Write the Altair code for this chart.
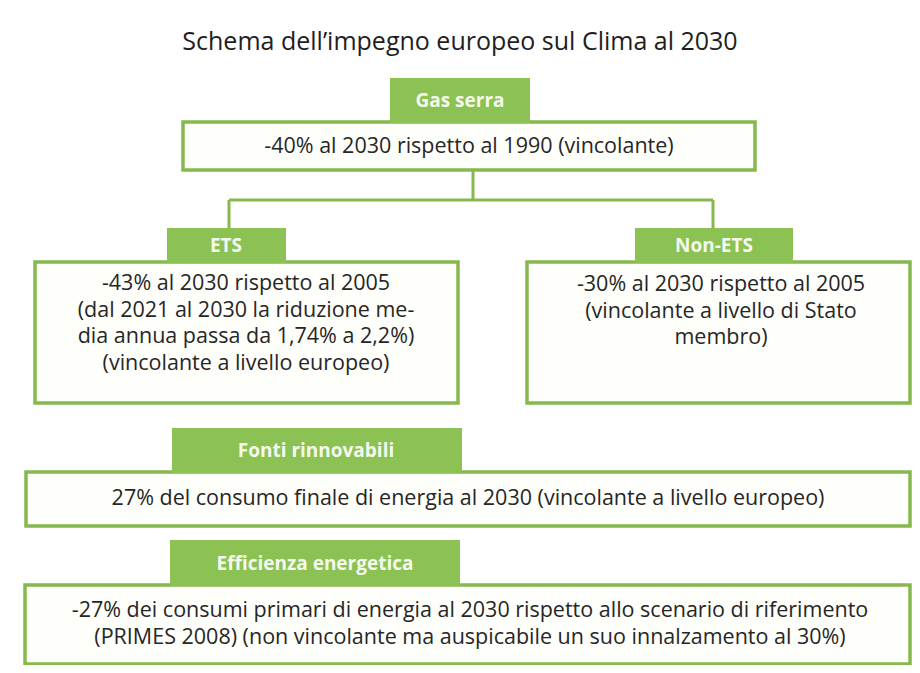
import altair as alt
import pandas as pd

# ---- content ----
title_text = "Schema dell’impegno europeo sul Clima al 2030"
sections = ["Gas serra", "ETS", "Non-ETS", "Fonti rinnovabili", "Efficienza energetica"]
body_lines = [
    ["-40% al 2030 rispetto al 1990 (vincolante)"],
    ["-43% al 2030 rispetto al 2005",
     "(dal 2021 al 2030 la riduzione me-",
     "dia annua passa da 1,74% a 2,2%)",
     "(vincolante a livello europeo)"],
    ["-30% al 2030 rispetto al 2005",
     "(vincolante a livello di Stato",
     "membro)"],
    ["27% del consumo finale di energia al 2030 (vincolante a livello europeo)"],
    ["-27% dei consumi primari di energia al 2030 rispetto allo scenario di riferimento",
     "(PRIMES 2008) (non vincolante ma auspicabile un suo innalzamento al 30%)"],
]

# ---- layout (page pixel coordinates) ----
box_x = [183, 35, 527, 26, 25]
box_x2 = [755, 458, 910, 910, 910]
box_y = [122, 262, 262, 472, 585]
box_y2 = [170, 403, 403, 526, 664]
head_x = [390, 167, 635, 172, 170]
head_x2 = [530, 286, 793, 462, 460]
head_y = [78, 228, 228, 428, 540]
head_y2 = [123, 263, 263, 473, 586]
head_tx = [460, 226, 714, 316, 315]
head_ty = [101, 246, 246, 451, 564]
body_tx = [469, 246, 721, 468, 470]
body_ty0 = [147, 284, 285, 499, 611]
line_gap = 26.5

conn_x = [473, 229, 229, 713]
conn_x2 = [473, 713, 229, 713]
conn_y = [170, 200, 200, 200]
conn_y2 = [200, 200, 228, 228]

GREEN_FILL = "#8cc153"
GREEN_LINE = "#86b84e"
TEXT = "#262626"
FONT = "Open Sans"

boxes = pd.DataFrame({"s": sections, "x": box_x, "x2": box_x2, "y": box_y, "y2": box_y2})
heads = pd.DataFrame({"s": sections, "x": head_x, "x2": head_x2, "y": head_y, "y2": head_y2,
                      "tx": head_tx, "ty": head_ty})
rows = []
for i, lines in enumerate(body_lines):
    for j, ln in enumerate(lines):
        rows.append({"label": ln, "x": body_tx[i], "y": body_ty0[i] + j * line_gap})
body = pd.DataFrame(rows)
conns = pd.DataFrame({"x": conn_x, "x2": conn_x2, "y": conn_y, "y2": conn_y2})
title_df = pd.DataFrame({"label": [title_text], "x": [460], "y": [42]})

W, H = 904, 657
xs = alt.Scale(domain=[8, 8 + W], zero=False, nice=False)
ys = alt.Scale(domain=[8 + H, 8], zero=False, nice=False)
X = lambda f: alt.X(f, type="quantitative", scale=xs, axis=None)
Y = lambda f: alt.Y(f, type="quantitative", scale=ys, axis=None)

conn_layer = alt.Chart(conns).mark_rule(color=GREEN_LINE, strokeWidth=3).encode(
    x=X("x"), x2="x2", y=Y("y"), y2="y2")
box_layer = alt.Chart(boxes).mark_rect(fill="#fefefb", stroke=GREEN_LINE, strokeWidth=3.5).encode(
    x=X("x"), x2="x2", y=Y("y"), y2="y2")
head_layer = alt.Chart(heads).mark_rect(fill=GREEN_FILL).encode(
    x=X("x"), x2="x2", y=Y("y"), y2="y2")
head_text = alt.Chart(heads).mark_text(font=FONT, fontSize=19, fontWeight="bold", color="#f4f9ee",
                                       align="center", baseline="middle").encode(
    x=X("tx"), y=Y("ty"), text="s:N")
body_text = alt.Chart(body).mark_text(font=FONT, fontSize=21.5, color=TEXT,
                                      align="center", baseline="middle").encode(
    x=X("x"), y=Y("y"), text="label:N")
title_layer = alt.Chart(title_df).mark_text(font=FONT, fontSize=25, color="#1e1e1e",
                                            align="center", baseline="middle").encode(
    x=X("x"), y=Y("y"), text="label:N")

chart = alt.layer(conn_layer, box_layer, head_layer, head_text, body_text, title_layer).properties(
    width=W, height=H, padding=0, autosize=alt.AutoSizeParams(type="none"),
    background="white"
).configure_view(stroke=None)

chart.save("out.html", embed_options={"renderer": "svg", "actions": False})
